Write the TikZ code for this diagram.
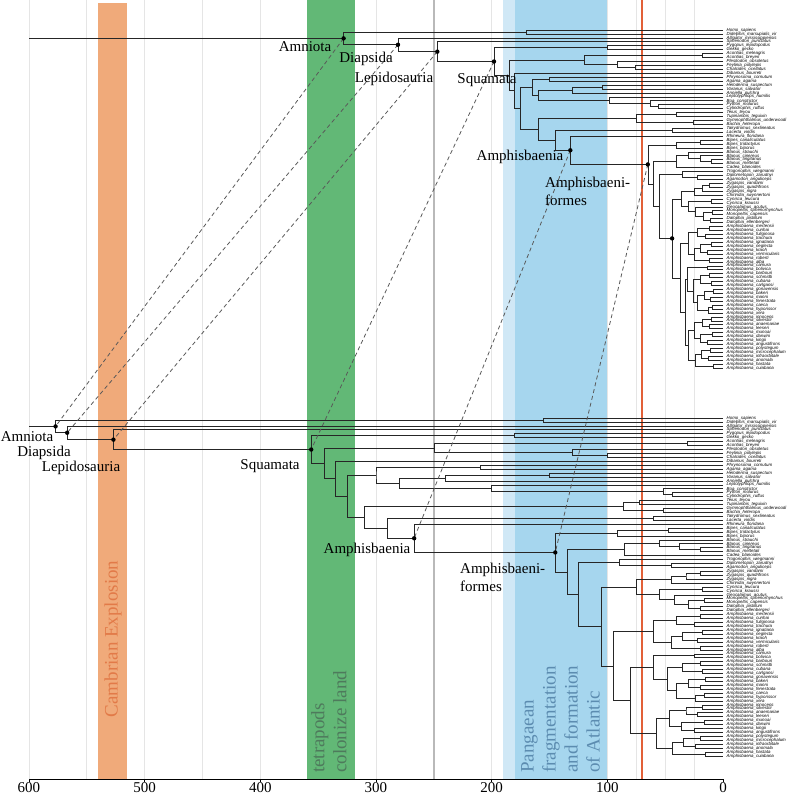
\documentclass[tikz,border=0pt]{standalone}
\usepackage{fontspec}
\setmainfont{Liberation Serif}
\newfontfamily\tipfont{Liberation Sans}
\usepackage{tikz}
\usetikzlibrary{
  calc,%
  positioning
}
\definecolor{cambrian}{RGB}{240,170,122}
\definecolor{cambriantext}{RGB}{226,122,72}
\definecolor{tetrapod}{RGB}{98,184,118}
\definecolor{tetrapodtext}{RGB}{78,122,92}
\definecolor{pangaea}{RGB}{166,214,238}
\definecolor{pangaealight}{RGB}{208,232,246}
\definecolor{pangaeatext}{RGB}{92,140,176}
\definecolor{ptline}{RGB}{185,185,185}
\definecolor{kpgline}{RGB}{226,96,56}
\tikzset{>=latex}
\tikzset{branch/.style={line width=0.6pt, black!85}}
\tikzset{tip/.style={anchor=west, inner sep=0pt,
    font=\tipfont\itshape\fontsize{4.4}{5}\selectfont}}
\tikzset{cladelabel/.style={inner sep=0pt, font=\fontsize{15}{18}\selectfont}}
\tikzset{bandlabel/.style={rotate=90, anchor=north west, align=left,
    inner sep=0pt, font=\fontsize{19}{22}\selectfont}}
\tikzset{gridline/.style={black!10, line width=0.8pt}}
\tikzset{link/.style={black!65, line width=0.8pt, dash pattern=on 4pt off 3pt}}
% age (My) to horizontal position
\newcommand\agex[1]{{723-1.1567*#1}}
% clade: name, age, upper child, lower child
\newcommand\clade[4]{%
  \path let \p1=(#3), \p2=(#4) in ({723-1.1567*#2},{0.5*\y1+0.5*\y2}) coordinate (#1);
  \draw[branch] (#3) -| (#1) |- (#4);}

\begin{document}
\begin{tikzpicture}[x=1pt, y=-1pt]
  \useasboundingbox (0,0) rectangle (796,796);
  % grid and time bands
  \foreach \t in {600,550,...,50,75,25}
    \draw[gridline] (\agex{\t},0) -- (\agex{\t},779);
  \fill[cambrian] (\agex{540},3) rectangle (\agex{515},779);
  \fill[tetrapod] (\agex{360},0) rectangle (\agex{318},779);
  \fill[pangaealight] (\agex{190},0) rectangle (\agex{180},779);
  \fill[pangaea] (\agex{180},0) rectangle (\agex{100},779);
  \draw[ptline, line width=2.5pt] (\agex{250},0) -- (\agex{250},779);
  \draw[kpgline, line width=2pt] (\agex{70},0) -- (\agex{70},779);
  \node[bandlabel, anchor=center, text=cambriantext] (cambrianlabel) at (113,639) {Cambrian Explosion};
  \node[bandlabel, text=tetrapodtext] (tetrapodlabel) at (311,773) {tetrapods\\colonize land};
  \node[bandlabel, text=pangaeatext] (pangaealabel) at (521,773) {Pangaean\\fragmentation\\and formation\\of Atlantic};
  % axis
  \coordinate (axl) at (29,779);
  \coordinate (axr) at (723,779);
  \draw[line width=0.8pt] (axl) -- (axr);
  \foreach \t in {0,100,...,600} {
    \draw[line width=0.8pt] (\agex{\t},779) -- (\agex{\t},782);
    \node[cladelabel, anchor=north] (tick\t) at (\agex{\t},782) {\t};
  }
  % tips of both trees
  \foreach \s [count=\i] in {Homo\_sapiens, Didelphis\_marsupialis\_vir,
      Alligator\_mississippiensis, Sphenodon\_punctatus, Pygopus\_lepidopodus,
      Gekko\_gecko, Acontias\_meleagris, Acontias\_breyeri, Plestiodon\_obsoletus,
      Feylinia\_polylepis, Chalcides\_ocellatus, Dibamus\_bourreti,
      Phrynosoma\_cornutum, Agama\_agama, Heloderma\_suspectum, Varanus\_salvator,
      Anniella\_pulchra, Leptotyphlops\_humilis, Boa\_constrictor, Python\_molurus,
      Cylindrophis\_ruffus, Teius\_teyou, Tupinambis\_teguixin,
      Gymnophthalmus\_underwoodi, Bachia\_heteropa, Takydromus\_sexlineatus,
      Lacerta\_viridis, Rhineura\_floridana, Bipes\_canaliculatus,
      Bipes\_tridactylus, Bipes\_biporus, Blanus\_strauchi, Blanus\_cinereus,
      Blanus\_tingitanus, Blanus\_mettetali, Cadea\_blanoides,
      Trogonophis\_wiegmanni, Diplometopon\_zarudnyi, Agamodon\_anguliceps,
      Zygaspis\_vandami, Zygaspis\_quadrifrons, Zygaspis\_nigra,
      Chirindia\_swynnertoni, Cynisca\_leucura, Cynisca\_kraussi,
      Geocalamus\_acutus, Monopeltis\_sphenorhynchus, Monopeltis\_capensis,
      Dalophia\_pistillum, Dalophia\_ellenbergeri, Amphisbaena\_mertensii,
      Amphisbaena\_cunhai, Amphisbaena\_fuliginosa, Amphisbaena\_trachura,
      Amphisbaena\_ignatiana, Amphisbaena\_neglecta, Amphisbaena\_kraoh,
      Amphisbaena\_vermicularis, Amphisbaena\_roberti, Amphisbaena\_alba,
      Amphisbaena\_camura, Amphisbaena\_bolivica, Amphisbaena\_barbouri,
      Amphisbaena\_schmidti, Amphisbaena\_cubana, Amphisbaena\_carlgansi,
      Amphisbaena\_gonavensis, Amphisbaena\_bakeri, Amphisbaena\_manni,
      Amphisbaena\_fenestrata, Amphisbaena\_caeca, Amphisbaena\_hyporissor,
      Amphisbaena\_xera, Amphisbaena\_innocens, Amphisbaena\_silvestrii,
      Amphisbaena\_anaemariae, Amphisbaena\_leeseri, Amphisbaena\_munoai,
      Amphisbaena\_darwini, Amphisbaena\_kingii, Amphisbaena\_angustifrons,
      Amphisbaena\_polystegum, Amphisbaena\_microcephalum,
      Amphisbaena\_infraorbitale, Amphisbaena\_anomala, Amphisbaena\_hastata,
      Amphisbaena\_cuiabana} {
    \coordinate (A\i) at (723,{30+(\i-1)*3.93});
    \coordinate (B\i) at (723,{418+(\i-1)*3.93});
    \node[tip] (tA\i) at ([xshift=3.5pt]A\i) {\s};
    \node[tip] (tB\i) at ([xshift=3.5pt]B\i) {\s};
  }
  % clades: name / upper / lower / age above / age below
  \foreach \c/\a/\b/\ta/\tb in {syn/1/2/170/155, gek/5/6/100/180, aco/7/8/18/31,
      fc/10/11/76/100, ple/9/fc/91/130, sci/aco/ple/120/250, igu/13/14/150/210,
      hv/15/16/104/150, ang/hv/17/130/240, pc/20/21/56/44, boa/19/pc/63/52,
      snk/18/boa/98/200, as/ang/snk/160/280, tox/igu/as/165/300, tt/22/23/40/72,
      gb/24/25/26/52, tei/tt/gb/75/86, lac/26/27/44/60, bct/29/30/20/47,
      bip/bct/31/40/91, tm/34/35/10/20, ctm/33/tm/20/38, scm/32/ctm/30/55,
      bla/scm/36/40/85, da/38/39/22/45, tro/37/da/35/90, zvq/40/41/12/20,
      zyg/zvq/42/18/32, zc/zyg/43/25/45, cyn/44/45/10/18, mon/47/48/9/16,
      dal/49/50/11/20, md/mon/dal/17/30, gmd/46/md/24/42, cgm/cyn/gmd/30/55,
      afr/zc/cgm/36/75,
      p1/51/52/12/20, p2/53/54/15/25, p3/p1/p2/22/40, p4/55/56/10/18,
      p5/57/58/14/22, p6/p4/p5/20/35, p7/59/60/12/20, p8/p6/p7/25/45,
      gA/p3/p8/30/60,
      q1/61/62/14/25, q2/63/64/12/20, q3/65/66/10/18, q4/q2/q3/20/35,
      q5/67/68/8/15, q6/69/70/11/20, q7/q5/q6/16/30, q8/71/72/9/16,
      q9/q8/73/13/24, q10/q7/q9/22/40, q11/q4/q10/26/48, gB/q1/q11/31/60,
      r1/74/75/10/18, r2/76/77/12/22, r3/r1/r2/18/32, r4/78/79/9/16,
      r5/80/81/14/25, r6/r4/r5/20/36, r7/r3/r6/25/46, r8/82/83/11/20,
      r9/84/85/13/24, r10/r8/r9/19/34, r11/86/87/8/15, r12/r10/r11/24/44,
      gC/r7/r12/30/58,
      gBC/gB/gC/33/80, amb/gA/gBC/37/95, amd/afr/amb/44/105,
      rsx/tro/amd/55/125, rfv/bla/rsx/60/135, abf/bip/rfv/65/145,
      abn/28/abf/132/267, lcb/lac/abn/145/290, lat/tei/lcb/160/310,
      rth/tox/lat/175/325, rtw/12/rth/180/335, ron/sci/rtw/185/345,
      sqm/gek/ron/198/356, lep/4/sqm/247/527, dia/3/lep/281/567,
      amn/syn/dia/328/577} {
    \clade{A\c}{\ta}{A\a}{A\b}
    \clade{B\c}{\tb}{B\a}{B\b}
  }
  \draw[branch] (Aamn) -- (Aamn -| axl);
  \draw[branch] (Bamn) -- (Bamn -| axl);
  % matching nodes
  \foreach \c in {amn,dia,lep,sqm,abn,abf}
    \draw[link] (A\c) -- (B\c);
  \foreach \c in {amn,dia,lep,sqm,abn,abf,amd}
    \fill (A\c) circle (2.2);
  \foreach \c in {amn,dia,lep,sqm,abn,abf}
    \fill (B\c) circle (2.2);
  % clade names
  \node[cladelabel] (lAamn) at (305,47) {Amniota};
  \node[cladelabel] (lAdia) at (366,59) {Diapsida};
  \node[cladelabel] (lAlep) at (394,79) {Lepidosauria};
  \node[cladelabel] (lAsqm) at (487,80) {Squamata};
  \node[cladelabel] (lAabn) at (520,157) {Amphisbaenia};
  \node[cladelabel, anchor=north west, align=left] (lAabf) at (545,177) {Amphisbaeni-\\formes};
  \node[cladelabel] (lBamn) at (27,437) {Amniota};
  \node[cladelabel] (lBdia) at (44,453) {Diapsida};
  \node[cladelabel] (lBlep) at (81,468) {Lepidosauria};
  \node[cladelabel] (lBsqm) at (270,466) {Squamata};
  \node[cladelabel] (lBabn) at (367,550) {Amphisbaenia};
  \node[cladelabel, anchor=north west, align=left] (lBabf) at (460,563) {Amphisbaeni-\\formes};
\end{tikzpicture}
\end{document}
